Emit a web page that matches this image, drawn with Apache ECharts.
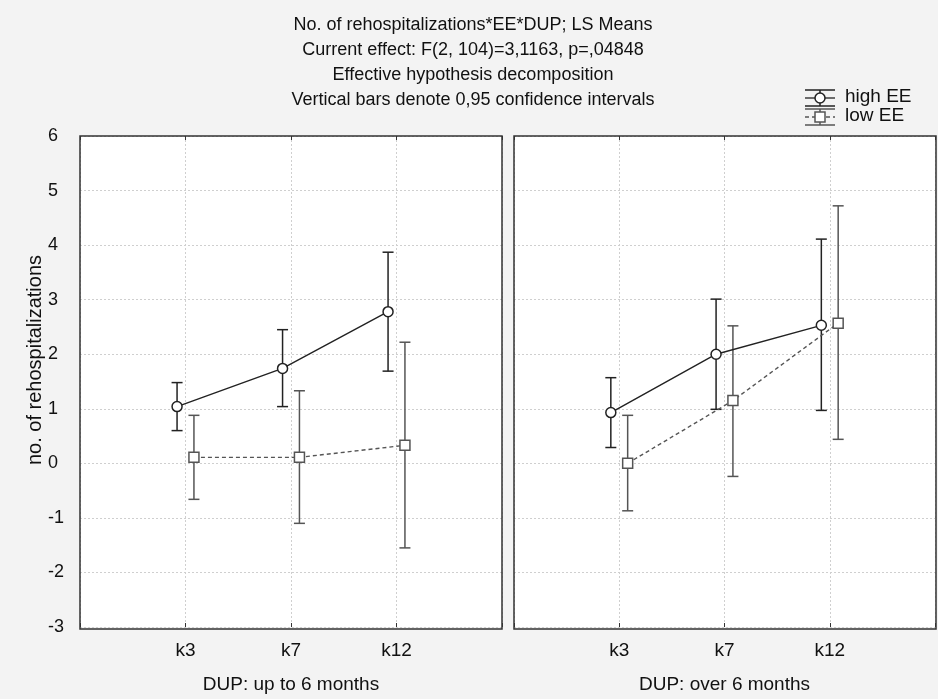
<!DOCTYPE html>
<html>
<head>
<meta charset="utf-8">
<script src="https://cdn.jsdelivr.net/npm/echarts@6/dist/echarts.min.js"></script>
<style>
  html, body { margin: 0; padding: 0; background: #f3f3f3; }
  #chart { width: 938px; height: 699px; }
</style>
</head>
<body>
<div id="chart"></div>
<script>
// time points and tick labels
const categories = ['k3', 'k7', 'k12'];
const yTicks = [-3, -2, -1, 0, 1, 2, 3, 4, 5, 6];

// DUP: up to 6 months
const leftHighMean = [1.04, 1.74, 2.78];
const leftHighLo   = [0.60, 1.04, 1.69];
const leftHighHi   = [1.48, 2.45, 3.87];
const leftLowMean  = [0.11, 0.11, 0.33];
const leftLowLo    = [-0.66, -1.10, -1.55];
const leftLowHi    = [0.88, 1.33, 2.22];

// DUP: over 6 months
const rightHighMean = [0.93, 2.00, 2.53];
const rightHighLo   = [0.29, 0.99, 0.97];
const rightHighHi   = [1.57, 3.01, 4.11];
const rightLowMean  = [0.00, 1.15, 2.57];
const rightLowLo    = [-0.87, -0.24, 0.44];
const rightLowHi    = [0.88, 2.52, 4.72];

const font = 'Liberation Sans, Arial, sans-serif';
const dark = '#222';
const grey = '#555';
const shift = 0.08;

function pts(mean, off) {
    return mean.map((v, i) => [i + 1 + off, v]);
}
function bars(lo, hi, off) {
    return lo.map((v, i) => [i + 1 + off, v, hi[i]]);
}

function errorBar(color) {
    return function (params, api) {
        let x = api.value(0);
        let lo = api.coord([x, api.value(1)]);
        let hi = api.coord([x, api.value(2)]);
        let w = 5.5;
        let style = { stroke: color, lineWidth: 1.5 };
        return {
            type: 'group',
            children: [
                { type: 'line', shape: { x1: lo[0], y1: lo[1], x2: hi[0], y2: hi[1] }, style },
                { type: 'line', shape: { x1: lo[0] - w, y1: lo[1], x2: lo[0] + w, y2: lo[1] }, style },
                { type: 'line', shape: { x1: hi[0] - w, y1: hi[1], x2: hi[0] + w, y2: hi[1] }, style }
            ]
        };
    };
}

function xAxisFor(idx, name) {
    return {
        type: 'value', gridIndex: idx, min: 0, max: 4, interval: 1,
        name: name, nameLocation: 'middle', nameGap: 48,
        nameTextStyle: { fontFamily: font, fontSize: 19, color: '#111' },
        axisLine: { show: false, onZero: false },
        axisTick: { show: true, inside: true, length: 4, lineStyle: { color: '#333' } },
        axisLabel: {
            fontFamily: font, fontSize: 19, color: '#111', margin: 14,
            formatter: v => (v >= 1 && v <= 3 ? categories[v - 1] : '')
        },
        splitLine: { show: true, lineStyle: { color: '#cfcfcf', type: [2, 2], width: 1 } }
    };
}

// tick marks only, along the top edge of each panel
function topAxisFor(idx) {
    return {
        type: 'value', gridIndex: idx, position: 'top', min: 0, max: 4, interval: 1,
        axisLine: { show: false, onZero: false },
        axisTick: { show: true, inside: true, length: 4, lineStyle: { color: '#333' } },
        axisLabel: { show: false },
        splitLine: { show: false }
    };
}

function yAxisFor(idx, withLabels) {
    return {
        type: 'value', gridIndex: idx, min: -3, max: 6, interval: 1,
        axisLine: { show: false, onZero: false },
        axisTick: { show: false },
        axisLabel: {
            show: withLabels, fontFamily: font, fontSize: 18, color: '#111',
            margin: 32, align: 'left',
            formatter: v => (yTicks.indexOf(v) >= 0 ? String(v) : '')
        },
        splitLine: { show: true, lineStyle: { color: '#cfcfcf', type: [2, 2], width: 1 } }
    };
}

function panelSeries(idx, hMean, hLo, hHi, lMean, lLo, lHi) {
    return [
        {
            type: 'custom', xAxisIndex: idx, yAxisIndex: idx, z: 2,
            renderItem: errorBar(dark), data: bars(hLo, hHi, -shift), silent: true
        },
        {
            type: 'custom', xAxisIndex: idx, yAxisIndex: idx, z: 2,
            renderItem: errorBar(grey), data: bars(lLo, lHi, shift), silent: true
        },
        {
            type: 'line', xAxisIndex: idx, yAxisIndex: idx, z: 3,
            data: pts(lMean, shift), symbol: 'rect', symbolSize: 10,
            lineStyle: { color: grey, width: 1.4, type: [4, 3] },
            itemStyle: { color: '#fff', borderColor: grey, borderWidth: 1.5 },
            silent: true
        },
        {
            type: 'line', xAxisIndex: idx, yAxisIndex: idx, z: 4,
            data: pts(hMean, -shift), symbol: 'circle', symbolSize: 10,
            lineStyle: { color: dark, width: 1.4 },
            itemStyle: { color: '#fff', borderColor: dark, borderWidth: 1.5 },
            silent: true
        }
    ];
}

function legendIcon(cx, cy, color, dashed, square) {
    let st = { stroke: color, lineWidth: 1.5 };
    let items = [
        { type: 'line', shape: { x1: cx - 15, y1: cy - 8, x2: cx + 15, y2: cy - 8 }, style: st },
        { type: 'line', shape: { x1: cx - 15, y1: cy + 8, x2: cx + 15, y2: cy + 8 }, style: st },
        { type: 'line', shape: { x1: cx, y1: cy - 8, x2: cx, y2: cy + 8 }, style: st },
        { type: 'line', shape: { x1: cx - 15, y1: cy, x2: cx + 15, y2: cy },
          style: { stroke: color, lineWidth: 1.3, lineDash: dashed ? [4, 3] : null } }
    ];
    if (square) {
        items.push({ type: 'rect', shape: { x: cx - 5, y: cy - 5, width: 10, height: 10 },
                     style: { fill: '#fff', stroke: color, lineWidth: 1.5 } });
    } else {
        items.push({ type: 'circle', shape: { cx: cx, cy: cy, r: 5 },
                     style: { fill: '#fff', stroke: color, lineWidth: 1.5 } });
    }
    return { type: 'group', children: items };
}

function frame(x) {
    return {
        type: 'rect', z: 100, silent: true,
        shape: { x: x, y: 136, width: 422, height: 493 },
        style: { fill: null, stroke: '#333', lineWidth: 1.5 }
    };
}

let chart = echarts.init(document.getElementById('chart'));
let option = {
    backgroundColor: '#f3f3f3',
    animation: false,
    title: {
        text: 'No. of rehospitalizations*EE*DUP; LS Means\nCurrent effect: F(2, 104)=3,1163, p=,04848\nEffective hypothesis decomposition\nVertical bars denote 0,95 confidence intervals',
        left: 468, top: 8, textAlign: 'center',
        textStyle: { fontFamily: font, fontSize: 18, fontWeight: 'normal', color: '#111', lineHeight: 25 }
    },
    grid: [
        { left: 80, top: 136, width: 422, height: 493, show: true, backgroundColor: '#fff', borderWidth: 0 },
        { left: 514, top: 136, width: 422, height: 493, show: true, backgroundColor: '#fff', borderWidth: 0 }
    ],
    xAxis: [
        xAxisFor(0, 'DUP: up to 6 months'), xAxisFor(1, 'DUP: over 6 months'),
        topAxisFor(0), topAxisFor(1)
    ],
    yAxis: [yAxisFor(0, true), yAxisFor(1, false)],
    series: []
        .concat(panelSeries(0, leftHighMean, leftHighLo, leftHighHi, leftLowMean, leftLowLo, leftLowHi))
        .concat(panelSeries(1, rightHighMean, rightHighLo, rightHighHi, rightLowMean, rightLowLo, rightLowHi)),
    graphic: [
        frame(80),
        frame(514),
        {
            type: 'text', x: 35, y: 360, rotation: Math.PI / 2,
            style: { text: 'no. of rehospitalizations', font: '20px ' + font, fill: '#111',
                     align: 'center', verticalAlign: 'middle' }
        },
        legendIcon(820, 98, dark, false, false),
        legendIcon(820, 117, grey, true, true),
        { type: 'text', left: 845, top: 87, style: { text: 'high EE', font: '19px ' + font, fill: '#111' } },
        { type: 'text', left: 845, top: 106, style: { text: 'low EE', font: '19px ' + font, fill: '#111' } }
    ]
};
chart.setOption(option);
</script>
</body>
</html>
